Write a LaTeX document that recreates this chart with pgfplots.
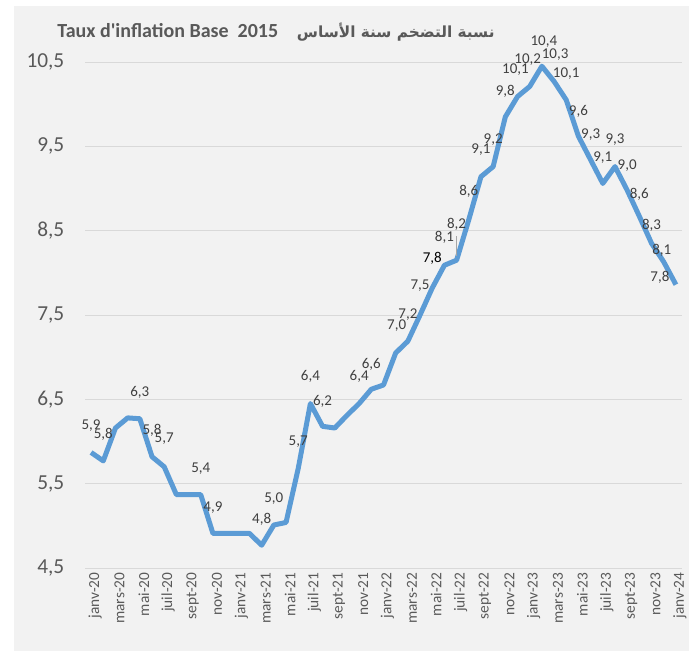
\documentclass[border=0pt]{standalone}
\usepackage{pgfplots}
\pgfplotsset{compat=1.18}
\usepackage{pgfplotstable}
\usepackage{fontspec}
\setmainfont{Carlito}
\newfontfamily\arabicfont[Script=Arabic]{DejaVu Sans}
\TeXXeTstate=1
\definecolor{bggray}{HTML}{F2F2F2}
\definecolor{gridgray}{HTML}{D9D9D9}
\definecolor{tickgray}{HTML}{595959}
\definecolor{labgray}{HTML}{404040}
\definecolor{lineblue}{HTML}{5B9BD5}
\pgfplotstableread{
i v lab dx dy
0 5.87 5,9 0 27
1 5.77 5,8 0 27
2 6.16 {} 0 0
3 6.28 {} 0 0
4 6.27 6,3 0 26
5 5.82 5,8 0 26
6 5.70 5,7 0 28
7 5.37 {} 0 0
8 5.37 {} 0 0
9 5.37 5,4 0 26
10 4.91 4,9 0 26
11 4.91 {} 0 0
12 4.91 {} 0 0
13 4.91 {} 0 0
14 4.77 4,8 0 26
15 5.01 5,0 0 26.5
16 5.04 {} 0 0
17 5.68 5,7 0 26.5
18 6.45 6,4 0 27
19 6.18 6,2 0 25
20 6.16 {} 0 0
21 6.31 {} 0 0
22 6.45 6,4 0 27
23 6.62 6,6 0 25
24 6.67 {} 0 0
25 7.05 7,0 1 27
26 7.19 7,2 0 27
27 7.50 7,5 0 29
28 7.82 {\color{black}7,8} 0 29.5
29 8.09 8,1 0 28
30 8.15 8,2 0 36
31 8.63 8,6 0 28.7
32 9.14 9,1 0 26.7
33 9.26 9,2 0 27
34 9.85 9,8 0 25.3
35 10.09 10,1 -2 26.6
36 10.21 10,2 -2 26.5
37 10.45 10,4 2 25
38 10.27 10,3 1 27
39 10.05 10,1 0 26.7
40 9.62 9,6 0 25
41 9.34 9,3 0 25
42 9.06 9,1 0 26
43 9.26 9,3 0 26.6
44 8.98 9,0 0 25
45 8.67 8,6 0 22
46 8.35 8,3 0 18
47 8.13 8,1 -2 12
48 7.86 7,8 -16 7
}\data
\begin{document}
\begin{tikzpicture}
\path[use as bounding box] (0,0) rectangle (516.75pt,-488.25pt);
\fill[bggray] (10.5pt,-4.5pt) rectangle (516.75pt,-488.25pt);
\node[text=tickgray, font=\fontsize{15}{17}\selectfont\bfseries, inner sep=0pt] at (207pt,-24pt)
  {Taux d\textquotesingle inflation Base\ \ 2015\hspace{14pt}{\arabicfont\fontsize{11.5}{14}\selectfont\bfseries\beginR نسبة التضخم سنة الأساس\endR}};
\begin{axis}[
  at={(63.75pt,-46.5pt)}, anchor=north west,
  scale only axis, width=447.75pt, height=379.5pt,
  xmin=-0.5, xmax=48.5, ymin=4.5, ymax=10.5,
  clip=false,
  axis line style={draw=none},
  ymajorgrids, grid style={gridgray, line width=0.75pt},
  ytick={4.5,5.5,...,10.5},
  ytick style={draw=none},
  /pgf/number format/assume math mode=true,
  /pgf/number format/.cd, use comma, fixed, fixed zerofill, precision=1, /pgfplots/.cd,
  yticklabel style={font=\fontsize{16}{18}\selectfont, text=tickgray, xshift=-12pt},
  xtick={0,2,...,48},
  xticklabels={janv-20,mars-20,mai-20,juil-20,sept-20,nov-20,janv-21,mars-21,mai-21,juil-21,sept-21,nov-21,janv-22,mars-22,mai-22,juil-22,sept-22,nov-22,janv-23,mars-23,mai-23,juil-23,sept-23,nov-23,janv-24},
  xtick style={draw=none},
  xticklabel style={rotate=90, anchor=east, font=\fontsize{11.5}{13}\selectfont, text=tickgray, yshift=-3pt},
  extra x ticks={-0.5,1.5,...,47.5},
  extra x tick labels={},
  extra x tick style={grid=none, major tick length=3.75pt, tick align=outside, tick style={draw=gridgray, line width=0.75pt}},
]
\addplot[lineblue, line width=3.75pt, line join=round, mark=none] table[x=i, y=v] {\data};
\addplot[draw=none, mark=none, nodes near coords, point meta=explicit symbolic,
  visualization depends on={\thisrow{dx} \as \dx},
  visualization depends on={\thisrow{dy} \as \dy},
  nodes near coords style={anchor=center, font=\fontsize{11.25}{13}\selectfont, text=labgray, xshift={0.75pt*(\dx)}, yshift={0.75pt*(\dy)}}]
  table[x=i, y=v, meta=lab] {\data};
\draw[gray!70, line width=0.6pt] ([yshift=3pt]axis cs:30,8.15) -- ([yshift=18pt]axis cs:30,8.15);
\end{axis}
\end{tikzpicture}
\end{document}
